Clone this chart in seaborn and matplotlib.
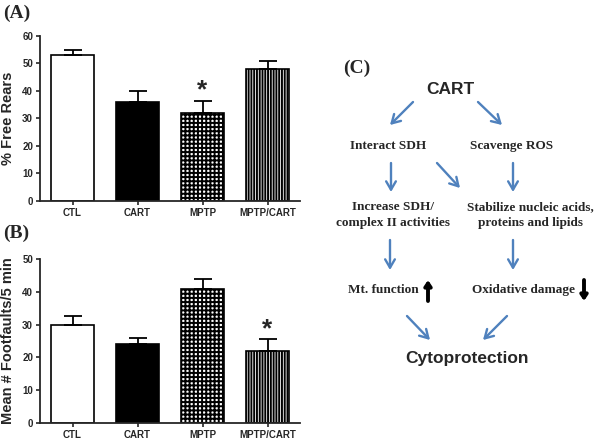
import numpy as np
import pandas as pd
import matplotlib
matplotlib.use("Agg")
import matplotlib.pyplot as plt
import seaborn as sns

# Bar data for panels A and B
groups = ["CTL", "CART", "MPTP", "MPTP/CART"]
rears = [53, 36, 32, 48]
rears_err = [2, 4, 4.5, 3]
footfaults = [30, 24, 41, 22]
footfaults_err = [2.5, 2, 3, 3.5]

sns.set_style("ticks")
plt.rcParams["font.family"] = ["Liberation Sans", "DejaVu Sans"]
plt.rcParams["hatch.linewidth"] = 1.4

fig = plt.figure(figsize=(5.98, 4.42), dpi=100)

fills = ["white", "black", "white", "white"]
hatches = [None, None, "++++", "||||||"]


def bar_panel(rect, values, errs, ymax, step, ylabel, star_idx):
    ax = fig.add_axes(rect)
    df = pd.DataFrame({"group": groups, "value": values})
    sns.barplot(data=df, x="group", y="value", order=groups, width=0.66,
                color="white", edgecolor="black", linewidth=1.2,
                errorbar=None, ax=ax)
    for p, fc, h in zip(ax.patches, fills, hatches):
        p.set_facecolor(fc)
        p.set_edgecolor("black")
        if h:
            p.set_hatch(h)
    x = np.arange(len(groups))
    ax.errorbar(x, values, yerr=[np.zeros(len(values)), errs], fmt="none",
                ecolor="black", elinewidth=1.3, capsize=6.5, capthick=1.3)
    ax.text(x[star_idx], values[star_idx] + errs[star_idx] - 0.5, "*",
            ha="center", va="bottom", fontsize=19, fontweight="bold")
    ax.set_xlim(-0.5, 3.5)
    ax.set_ylim(0, ymax)
    ax.set_yticks(np.arange(0, ymax + 1, step))
    ax.set_xlabel("")
    ax.set_ylabel(ylabel, fontsize=10.5, fontweight="bold", labelpad=5)
    ax.tick_params(labelsize=7, width=1.2, length=3, pad=2)
    for lab in ax.get_xticklabels() + ax.get_yticklabels():
        lab.set_fontweight("bold")
    sns.despine(ax=ax)
    for s in ["left", "bottom"]:
        ax.spines[s].set_linewidth(1.3)
    return ax


bar_panel([40 / 598, 1 - 201 / 442, 260 / 598, 165 / 442], rears, rears_err,
          60, 10, "% Free Rears", 2)
bar_panel([40 / 598, 1 - 423 / 442, 260 / 598, 164 / 442], footfaults,
          footfaults_err, 50, 10, "Mean # Footfaults/5 min", 3)

# Overlay in pixel coordinates for labels and the scheme (C)
ov = fig.add_axes([0, 0, 1, 1], zorder=5)
ov.set_xlim(0, 598)
ov.set_ylim(442, 0)
ov.axis("off")

serif = ["Liberation Serif", "DejaVu Serif"]
ov.text(3, 13, "(A)", fontsize=14, fontweight="bold", family=serif, va="center")
ov.text(3, 233, "(B)", fontsize=14, fontweight="bold", family=serif, va="center")
ov.text(343, 68, "(C)", fontsize=14, fontweight="bold", family=serif, va="center")

ov.text(450, 90, "CART", fontsize=12.5, fontweight="bold", ha="center", va="center")
ov.text(467, 358, "Cytoprotection", fontsize=12.5, fontweight="bold",
        ha="center", va="center")

scheme = [
    (388, 146, "Interact SDH"),
    (512, 146, "Scavenge ROS"),
    (393, 207, "Increase SDH/"),
    (393, 223, "complex II activities"),
    (530, 207, "Stabilize nucleic acids,"),
    (530, 223, "proteins and lipids"),
    (383, 290, "Mt. function"),
    (523, 290, "Oxidative damage"),
]
for tx, ty, s in scheme:
    ov.text(tx, ty, s, fontsize=9.5, fontweight="bold", family=serif,
            ha="center", va="center")

blue = "#4F81BD"
arrows = [
    ((413, 102), (390, 125)),
    ((478, 102), (502, 125)),
    ((391, 163), (391, 192)),
    ((437, 163), (460, 188)),
    ((513, 163), (513, 192)),
    ((390, 240), (390, 270)),
    ((513, 240), (513, 270)),
    ((407, 316), (430, 340)),
    ((507, 316), (483, 340)),
]
for start, end in arrows:
    ov.annotate("", xy=end, xytext=start,
                arrowprops=dict(arrowstyle="->,head_length=0.6,head_width=0.35",
                                color=blue, lw=1.7, shrinkA=0, shrinkB=0))

ov.annotate("", xy=(428, 280), xytext=(428, 301),
            arrowprops=dict(arrowstyle="-|>,head_length=0.3,head_width=0.2",
                            color="black", lw=2.8, shrinkA=0, shrinkB=0))
ov.annotate("", xy=(584, 301), xytext=(584, 280),
            arrowprops=dict(arrowstyle="-|>,head_length=0.3,head_width=0.2",
                            color="black", lw=2.8, shrinkA=0, shrinkB=0))

fig.savefig("out.png", dpi=100)
